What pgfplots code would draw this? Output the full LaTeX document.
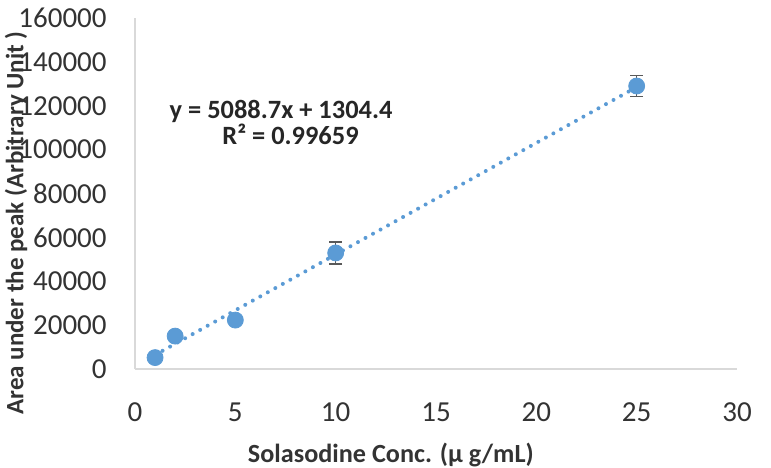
\documentclass[border=0pt]{standalone}
\usepackage{pgfplots}
\pgfplotsset{compat=1.18}
\usepackage{fontspec}
\setmainfont{Carlito}
\definecolor{pt}{HTML}{5B9BD5}
\definecolor{axgray}{HTML}{D9D9D9}
\definecolor{txt}{HTML}{333333}
\definecolor{errc}{HTML}{595959}
\begin{document}
\begin{tikzpicture}
\path[use as bounding box] (-67.5pt,-49pt) rectangle (318pt,184.5pt);
\begin{axis}[
  scale only axis, width=301pt, height=175.5pt,
  xmin=0, xmax=30, ymin=0, ymax=160000,
  xtick={0,5,...,30}, ytick={0,20000,...,160000},
  scaled y ticks=false,
  /pgf/number format/fixed, /pgf/number format/1000 sep={},
  /pgf/number format/assume math mode=true,
  axis x line*=bottom, axis y line*=left,
  axis line style={-, draw=axgray, line width=0.6pt},
  major tick length=0pt,
  tick label style={font=\fontsize{14.5}{16}\selectfont, text=txt},
  yticklabel style={inner sep=0pt, xshift=-14pt},
  xticklabel style={inner sep=0pt, yshift=-16.5pt},
  xlabel={Solasodine Conc. (µ g/mL)},
  ylabel={Area under the peak (Arbitrary Unit )},
  xlabel style={font=\bfseries\fontsize{13.1}{14}\selectfont, text=txt,
    at={(rel axis cs:0.425,0)}, anchor=base, yshift=-46.5pt},
  ylabel style={font=\bfseries\fontsize{12.5}{13}\selectfont, text=txt,
    at={([xshift=-59.5pt]rel axis cs:0,0.416)}, anchor=center},
  clip=false,
]
\addplot[pt, line width=2pt, dash pattern=on 0pt off 4.3pt, line cap=round]
  coordinates {(1,6393.1) (25,128521.9)};
\addplot[only marks, mark=*, mark size=4pt, color=pt,
  error bars/.cd, y dir=both, y explicit,
  error bar style={color=errc, line width=0.6pt},
  error mark options={rotate=90, mark size=3.25pt, color=errc, line width=0.6pt}]
  table[x=x, y=y, y error=err] {
x y err
1 5200 1500
2 15000 1500
5 22300 1500
10 52900 5000
25 129000 4800
};
\node[font=\bfseries\fontsize{13.2}{14}\selectfont, text=black!85, anchor=base]
  at (axis cs:7.28,114400) {y = 5088.7x + 1304.4};
\node[font=\bfseries\fontsize{13.2}{14}\selectfont, text=black!85, anchor=base]
  at (axis cs:7.75,102560) {R² = 0.99659};
\end{axis}
\end{tikzpicture}
\end{document}
